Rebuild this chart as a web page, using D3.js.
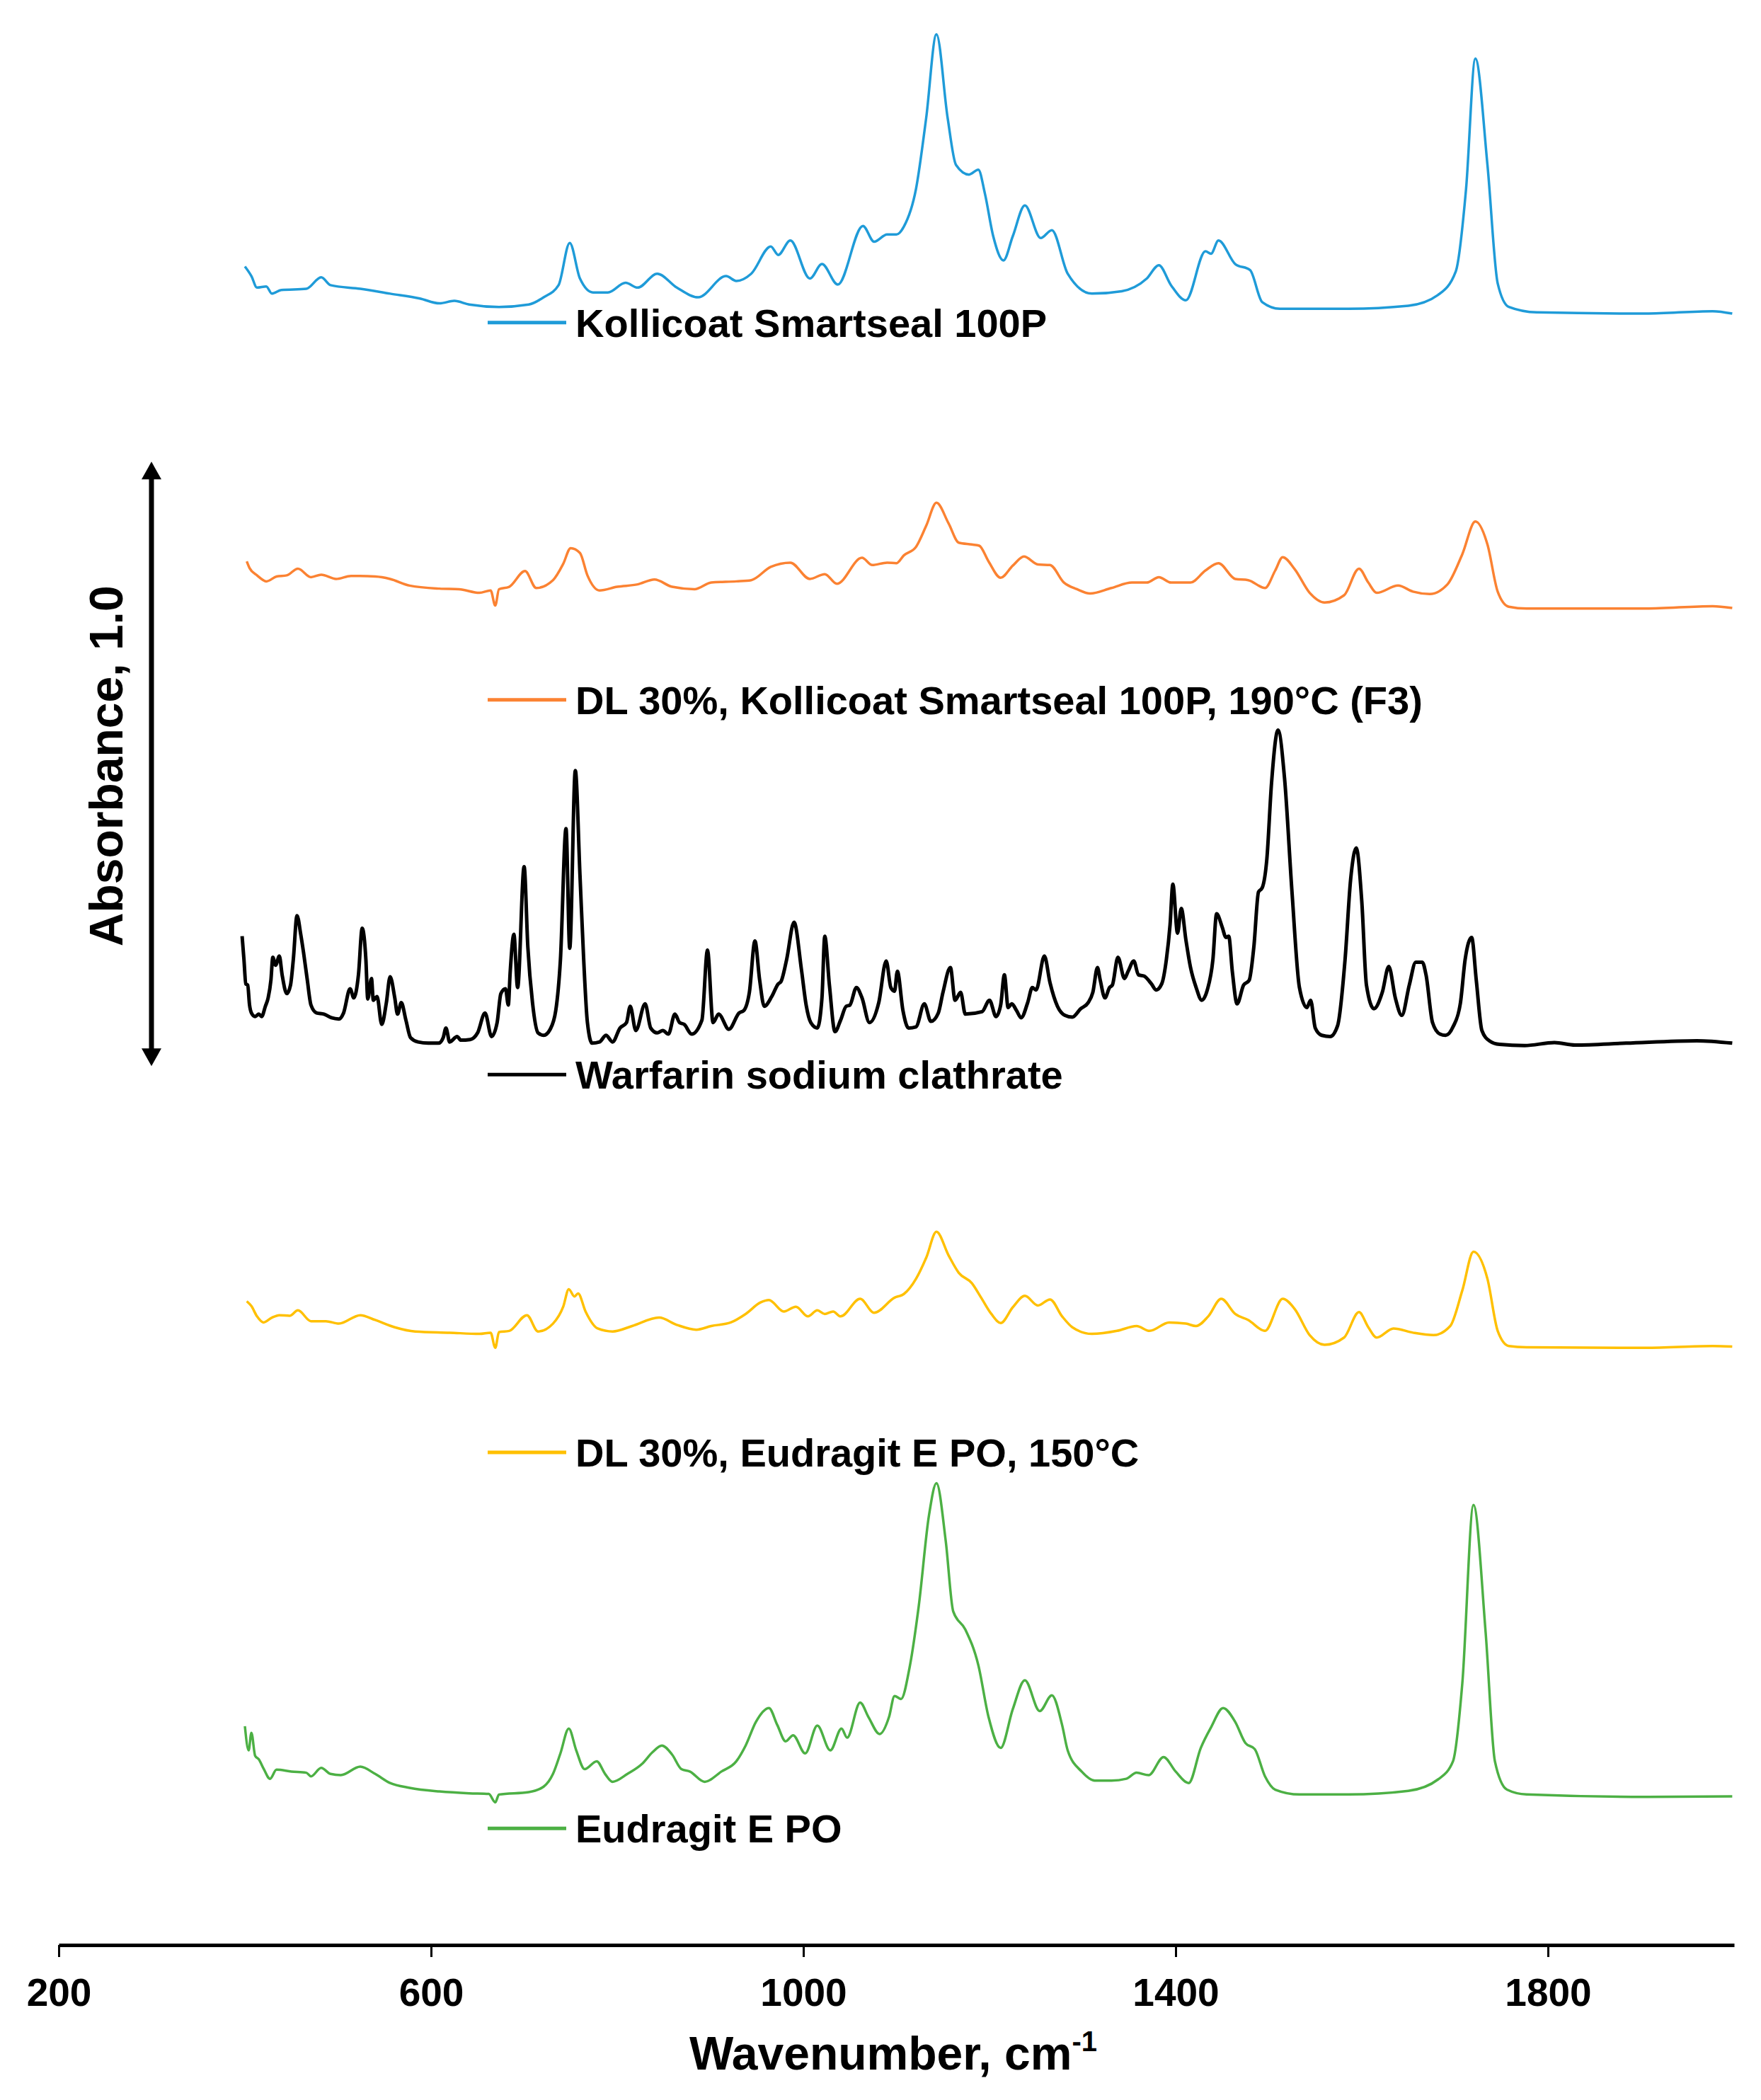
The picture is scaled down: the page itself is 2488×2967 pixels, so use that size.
<!DOCTYPE html>
<html>
<head>
<meta charset="utf-8">
<script src="https://cdn.jsdelivr.net/npm/d3@7"></script>
<style>
  body { margin: 0; background: #fff; }
  svg { display: block; font-family: "Liberation Sans", Arial, sans-serif; font-weight: bold; }
</style>
</head>
<body>
<svg width="2488" height="2967"></svg>
<script>
// spectra: [wavenumber cm-1, absorbance incl. stacking offset]
const kollicoat = [[400,2.777],[407,2.761],[413,2.742],[423,2.744],[429,2.732],[439,2.738],[466,2.740],[482,2.759],[492,2.746],[524,2.740],[556,2.732],[588,2.724],[609,2.716],[625,2.720],[641,2.714],[673,2.710],[705,2.714],[721,2.726],[737,2.746],[749,2.816],[760,2.757],[774,2.734],[790,2.734],[809,2.750],[822,2.742],[843,2.765],[864,2.742],[887,2.726],[917,2.761],[928,2.753],[944,2.765],[965,2.810],[973,2.796],[986,2.820],[1007,2.757],[1020,2.781],[1037,2.747],[1064,2.844],[1076,2.818],[1090,2.830],[1100,2.830],[1108,2.843],[1121,2.905],[1132,3.023],[1143,3.161],[1155,3.023],[1164,2.945],[1178,2.929],[1188,2.937],[1195,2.898],[1204,2.827],[1215,2.787],[1225,2.827],[1238,2.878],[1255,2.824],[1267,2.837],[1284,2.765],[1310,2.732],[1342,2.736],[1369,2.757],[1382,2.779],[1395,2.746],[1411,2.721],[1432,2.802],[1438,2.798],[1446,2.820],[1464,2.781],[1480,2.771],[1493,2.718],[1512,2.707],[1586,2.707],[1650,2.712],[1682,2.730],[1701,2.769],[1712,2.905],[1722,3.121],[1735,2.945],[1746,2.749],[1758,2.710],[1788,2.701],[1905,2.699],[1977,2.703],[1998,2.699]];

const dlKollicoat = [[402,2.289],[405,2.278],[413,2.266],[423,2.256],[434,2.264],[445,2.266],[457,2.277],[471,2.263],[482,2.267],[498,2.260],[514,2.265],[540,2.264],[556,2.260],[577,2.249],[609,2.244],[630,2.243],[652,2.237],[664,2.241],[669,2.216],[673,2.243],[684,2.247],[701,2.273],[713,2.245],[731,2.258],[742,2.285],[750,2.311],[760,2.303],[768,2.266],[781,2.241],[800,2.247],[822,2.251],[840,2.259],[859,2.247],[883,2.243],[901,2.254],[928,2.256],[944,2.258],[965,2.280],[986,2.287],[1007,2.260],[1023,2.268],[1036,2.252],[1063,2.295],[1074,2.283],[1090,2.287],[1100,2.286],[1108,2.299],[1121,2.313],[1132,2.348],[1143,2.386],[1156,2.352],[1167,2.320],[1181,2.317],[1189,2.315],[1199,2.289],[1212,2.262],[1225,2.282],[1237,2.297],[1252,2.284],[1265,2.283],[1280,2.254],[1294,2.243],[1308,2.236],[1331,2.245],[1353,2.254],[1369,2.254],[1382,2.263],[1395,2.254],[1416,2.254],[1432,2.274],[1446,2.286],[1464,2.260],[1478,2.258],[1496,2.245],[1507,2.274],[1515,2.296],[1528,2.276],[1544,2.237],[1560,2.221],[1581,2.233],[1597,2.277],[1607,2.254],[1616,2.237],[1639,2.249],[1655,2.239],[1673,2.235],[1692,2.251],[1708,2.301],[1722,2.355],[1735,2.317],[1746,2.239],[1758,2.214],[1777,2.211],[1905,2.211],[1977,2.215],[1998,2.212]];

const warfarin = [[397,1.669],[399,1.630],[401,1.590],[403,1.588],[405,1.555],[407,1.542],[411,1.536],[415,1.540],[418,1.536],[422,1.553],[425,1.567],[428,1.597],[430,1.634],[433,1.621],[437,1.636],[440,1.605],[445,1.574],[449,1.588],[452,1.630],[456,1.703],[460,1.672],[463,1.642],[467,1.597],[471,1.555],[477,1.542],[485,1.540],[493,1.534],[501,1.532],[506,1.542],[513,1.582],[517,1.567],[522,1.605],[526,1.682],[530,1.630],[532,1.565],[536,1.599],[538,1.563],[542,1.569],[547,1.523],[552,1.559],[556,1.602],[561,1.567],[564,1.540],[568,1.559],[573,1.530],[578,1.501],[586,1.494],[597,1.492],[608,1.492],[613,1.501],[616,1.517],[620,1.494],[628,1.503],[632,1.497],[642,1.498],[650,1.509],[658,1.542],[665,1.503],[671,1.526],[675,1.574],[680,1.582],[683,1.555],[685,1.609],[689,1.672],[693,1.584],[700,1.784],[704,1.651],[709,1.559],[715,1.509],[721,1.505],[728,1.515],[734,1.546],[739,1.630],[745,1.847],[749,1.649],[755,1.943],[760,1.770],[764,1.630],[768,1.526],[773,1.492],[781,1.494],[788,1.505],[795,1.494],[803,1.517],[810,1.526],[814,1.553],[820,1.513],[830,1.557],[836,1.517],[843,1.509],[849,1.513],[855,1.507],[862,1.540],[867,1.526],[872,1.523],[880,1.507],[891,1.530],[897,1.646],[903,1.526],[909,1.540],[920,1.515],[931,1.542],[936,1.546],[942,1.576],[948,1.661],[953,1.597],[958,1.553],[966,1.569],[973,1.590],[976,1.594],[982,1.630],[990,1.692],[998,1.613],[1003,1.555],[1008,1.526],[1015,1.517],[1020,1.567],[1023,1.669],[1028,1.588],[1034,1.511],[1040,1.530],[1046,1.553],[1050,1.555],[1057,1.584],[1063,1.567],[1071,1.526],[1081,1.559],[1089,1.628],[1094,1.584],[1098,1.578],[1101,1.611],[1107,1.546],[1113,1.517],[1121,1.519],[1130,1.557],[1137,1.528],[1145,1.542],[1150,1.576],[1158,1.617],[1163,1.563],[1169,1.576],[1174,1.540],[1192,1.544],[1200,1.563],[1207,1.536],[1212,1.555],[1216,1.605],[1220,1.551],[1224,1.557],[1229,1.546],[1234,1.534],[1241,1.559],[1246,1.584],[1250,1.580],[1259,1.636],[1265,1.592],[1273,1.553],[1281,1.538],[1289,1.535],[1298,1.549],[1306,1.559],[1311,1.576],[1316,1.617],[1319,1.596],[1324,1.567],[1329,1.584],[1332,1.588],[1338,1.634],[1345,1.599],[1349,1.611],[1355,1.628],[1360,1.605],[1366,1.603],[1374,1.590],[1379,1.580],[1385,1.590],[1390,1.630],[1394,1.688],[1397,1.755],[1402,1.674],[1406,1.715],[1411,1.663],[1416,1.617],[1422,1.584],[1428,1.563],[1434,1.580],[1440,1.630],[1444,1.706],[1450,1.684],[1454,1.667],[1457,1.669],[1461,1.609],[1466,1.557],[1473,1.588],[1479,1.596],[1484,1.651],[1489,1.742],[1493,1.749],[1498,1.797],[1503,1.922],[1510,2.010],[1517,1.930],[1525,1.742],[1533,1.584],[1541,1.551],[1545,1.563],[1550,1.517],[1557,1.505],[1566,1.503],[1574,1.521],[1582,1.630],[1588,1.763],[1594,1.815],[1600,1.726],[1605,1.588],[1613,1.549],[1622,1.576],[1629,1.619],[1636,1.567],[1643,1.538],[1651,1.588],[1658,1.626],[1665,1.626],[1669,1.605],[1676,1.526],[1684,1.507],[1690,1.505],[1698,1.519],[1706,1.559],[1711,1.630],[1718,1.667],[1723,1.596],[1729,1.513],[1737,1.496],[1748,1.490],[1775,1.488],[1807,1.493],[1829,1.489],[1884,1.492],[1960,1.496],[1998,1.492]];

const dlEudragit = [[402,1.065],[407,1.057],[413,1.040],[420,1.030],[429,1.038],[437,1.042],[448,1.041],[457,1.050],[471,1.032],[487,1.032],[501,1.028],[524,1.042],[540,1.034],[561,1.022],[583,1.015],[620,1.013],[652,1.011],[664,1.013],[669,0.988],[673,1.014],[684,1.016],[703,1.042],[715,1.015],[731,1.028],[742,1.056],[748,1.085],[754,1.073],[758,1.078],[766,1.048],[779,1.020],[795,1.015],[816,1.024],[845,1.038],[864,1.026],[885,1.018],[901,1.024],[922,1.030],[938,1.044],[954,1.063],[963,1.067],[979,1.048],[992,1.056],[1005,1.040],[1015,1.050],[1023,1.044],[1032,1.048],[1040,1.040],[1061,1.069],[1076,1.046],[1098,1.071],[1108,1.077],[1121,1.102],[1132,1.137],[1143,1.180],[1156,1.141],[1167,1.112],[1181,1.095],[1191,1.071],[1202,1.044],[1212,1.029],[1225,1.055],[1238,1.074],[1252,1.058],[1265,1.068],[1278,1.040],[1289,1.022],[1310,1.011],[1337,1.016],[1358,1.024],[1372,1.016],[1393,1.030],[1411,1.028],[1422,1.024],[1435,1.040],[1449,1.069],[1464,1.044],[1478,1.034],[1496,1.016],[1515,1.069],[1528,1.052],[1544,1.009],[1560,0.993],[1581,1.005],[1597,1.047],[1607,1.022],[1616,1.005],[1634,1.020],[1655,1.013],[1677,1.009],[1695,1.024],[1708,1.083],[1720,1.147],[1735,1.102],[1746,1.016],[1758,0.991],[1777,0.989],[1905,0.988],[1977,0.991],[1998,0.990]];

const eudragit = [[400,0.362],[404,0.322],[407,0.351],[411,0.313],[415,0.307],[420,0.292],[427,0.275],[434,0.290],[450,0.287],[466,0.285],[471,0.279],[482,0.293],[492,0.283],[503,0.281],[524,0.295],[540,0.283],[556,0.268],[577,0.260],[609,0.254],[641,0.251],[662,0.250],[669,0.236],[673,0.249],[705,0.253],[721,0.262],[731,0.283],[739,0.317],[748,0.358],[756,0.322],[765,0.291],[778,0.304],[787,0.283],[795,0.270],[811,0.283],[827,0.300],[838,0.319],[848,0.330],[859,0.315],[869,0.291],[878,0.287],[894,0.270],[912,0.287],[928,0.304],[938,0.330],[949,0.369],[963,0.392],[972,0.364],[981,0.337],[989,0.347],[1002,0.317],[1015,0.363],[1029,0.322],[1041,0.358],[1047,0.343],[1061,0.401],[1070,0.377],[1082,0.349],[1092,0.377],[1098,0.412],[1105,0.407],[1114,0.458],[1124,0.561],[1135,0.711],[1143,0.764],[1153,0.668],[1161,0.552],[1174,0.522],[1188,0.463],[1199,0.377],[1212,0.326],[1225,0.390],[1238,0.438],[1254,0.387],[1267,0.413],[1278,0.364],[1284,0.322],[1299,0.287],[1313,0.272],[1331,0.272],[1347,0.275],[1358,0.285],[1371,0.281],[1387,0.311],[1400,0.287],[1414,0.268],[1427,0.326],[1438,0.360],[1451,0.392],[1464,0.369],[1475,0.334],[1485,0.324],[1496,0.279],[1507,0.257],[1533,0.249],[1586,0.249],[1650,0.255],[1682,0.274],[1698,0.304],[1708,0.433],[1720,0.728],[1733,0.518],[1743,0.304],[1756,0.257],[1777,0.249],[1905,0.245],[1998,0.246]];

const seriesNames = [
    "Kollicoat Smartseal 100P",
    "DL 30%, Kollicoat Smartseal 100P, 190°C (F3)",
    "Warfarin sodium clathrate",
    "DL 30%, Eudragit E PO, 150°C",
    "Eudragit E PO"
];
const seriesData = [kollicoat, dlKollicoat, warfarin, dlEudragit, eudragit];
const xTicks = [200, 600, 1000, 1400, 1800];

// styles / layout
const seriesColors = ["#1f9bd8", "#fb8232", "#000000", "#ffc000", "#4cb044"];
const seriesWidths = [3.5, 3.5, 5, 3.5, 3.5];
// legend entries sit at these heights (absorbance units on the plot scale)
const legendLevels = [2.684, 2.060, 1.440, 0.815, 0.193];
const scaleBarBase = 1.454; // bottom of the 1.0 absorbance bar

const svg = d3.select("svg");
const fontFamily = '"Liberation Sans", Arial, sans-serif';

const x = d3.scaleLinear().domain([200, 2000]).range([83, 2450]);
const y = d3.scaleLinear().domain([0, 3.2178]).range([2748, 0]);

const line = d3.line()
    .x(d => x(d[0]))
    .y(d => y(d[1]))
    .curve(d3.curveMonotoneX);

// spectra
svg.append("g")
    .attr("fill", "none")
    .attr("stroke-linejoin", "round")
    .selectAll("path")
    .data(seriesData)
    .join("path")
    .attr("d", line)
    .attr("stroke", (_d, i) => seriesColors[i])
    .attr("stroke-width", (_d, i) => seriesWidths[i]);

// legend labels next to each spectrum
const legend = svg.append("g")
    .selectAll("g")
    .data(seriesNames)
    .join("g")
    .attr("transform", (_d, i) => `translate(0,${y(legendLevels[i])})`);
legend.append("line")
    .attr("x1", 689)
    .attr("x2", 800)
    .attr("stroke", (_d, i) => seriesColors[i])
    .attr("stroke-width", 5);
legend.append("text")
    .attr("x", 813)
    .attr("dy", "0.36em")
    .attr("font-size", 56)
    .attr("font-family", fontFamily)
    .attr("font-weight", "bold")
    .text(d => d);

// x axis
const xAxis = svg.append("g")
    .attr("transform", `translate(0,${y(0)})`)
    .call(d3.axisBottom(x)
        .tickValues(xTicks)
        .tickFormat(d3.format("d"))
        .tickSize(17)
        .tickSizeOuter(0)
        .tickPadding(30));
xAxis.select(".domain")
    .attr("stroke", "#000")
    .attr("stroke-width", 5);
xAxis.selectAll(".tick line")
    .attr("stroke", "#000")
    .attr("stroke-width", 3);
xAxis.selectAll(".tick text")
    .attr("fill", "#000")
    .attr("font-size", 55)
    .attr("font-family", fontFamily)
    .attr("font-weight", "bold");

const xTitle = svg.append("text")
    .attr("x", 1262)
    .attr("y", 2924)
    .attr("text-anchor", "middle")
    .attr("font-size", 66)
    .attr("font-family", fontFamily)
    .attr("font-weight", "bold")
    .text("Wavenumber, cm");
xTitle.append("tspan")
    .attr("dy", -26)
    .attr("font-size", 40)
    .text("-1");

// absorbance scale bar (1.0 units tall)
const barX = 214;
const barTop = y(scaleBarBase + 1.0);
const barBottom = y(scaleBarBase);
const headH = 25, headW = 14;
svg.append("line")
    .attr("x1", barX).attr("x2", barX)
    .attr("y1", barTop + headH - 2)
    .attr("y2", barBottom - headH + 2)
    .attr("stroke", "#000")
    .attr("stroke-width", 7);
svg.append("path")
    .attr("d", `M${barX},${barTop}L${barX + headW},${barTop + headH}L${barX - headW},${barTop + headH}Z`)
    .attr("fill", "#000");
svg.append("path")
    .attr("d", `M${barX},${barBottom}L${barX + headW},${barBottom - headH}L${barX - headW},${barBottom - headH}Z`)
    .attr("fill", "#000");

svg.append("text")
    .attr("transform", `translate(173,${(barTop + barBottom) / 2 + 3}) rotate(-90)`)
    .attr("text-anchor", "middle")
    .attr("font-size", 66)
    .attr("font-family", fontFamily)
    .attr("font-weight", "bold")
    .text("Absorbance, 1.0");
</script>
</body>
</html>
